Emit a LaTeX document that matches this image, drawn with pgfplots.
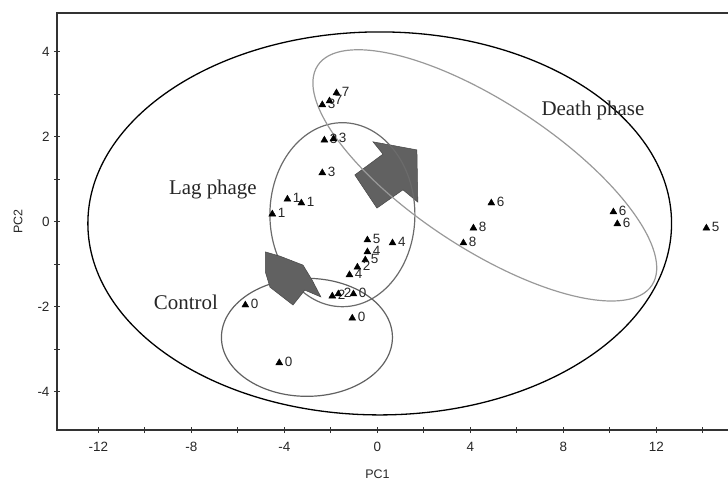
\documentclass[border=0pt]{standalone}
\usepackage{pgfplots}
\pgfplotsset{compat=1.18}
\usepackage{fontspec}
\setmainfont{Liberation Sans}
\newfontfamily\serifnote{Liberation Serif}

\pgfplotstableread{
x y lab
-1.76 3.03 7
-2.06 2.84 7
-2.37 2.75 3
-2.28 1.92 3
-1.89 1.95 3
-2.37 1.15 3
-3.87 0.53 1
-3.27 0.44 1
-4.52 0.18 1
-0.43 -0.43 5
0.65 -0.50 4
-0.43 -0.71 4
-0.52 -0.90 5
-0.86 -1.07 2
-1.20 -1.25 4
-1.94 -1.75 2
-1.68 -1.70 2
-1.03 -1.70 0
-5.68 -1.96 0
-1.08 -2.27 0
-4.22 -3.32 0
4.90 0.44 6
4.13 -0.15 8
3.70 -0.50 8
10.15 0.23 6
10.32 -0.05 6
14.15 -0.15 5
}\pcadata

\begin{document}
\begin{tikzpicture}
\begin{axis}[
  scale only axis, width=671bp, height=417bp,
  at={(0,0)}, anchor=south west,
  xmin=-13.78, xmax=15.08, ymin=-4.90, ymax=4.91,
  xtick={-12,-8,...,12}, minor xtick={-10,-6,...,14},
  ytick={-4,-2,...,4}, minor ytick={-3,-1,1,3},
  tick pos=left, tick align=center,
  major tick length=6bp, minor tick length=6bp,
  major tick style={black!80, line width=1bp},
  minor tick style={black!80, line width=1bp},
  axis line style={draw=none},
  clip=false,
  /pgf/number format/assume math mode=true,
  tick label style={font=\fontsize{13.5}{15}\selectfont, text=black!85},
  xticklabel style={yshift=-6bp},
  yticklabel style={xshift=-1bp},
  xlabel={PC1}, ylabel={PC2},
  xlabel style={at={(axis description cs:0.4776,-0.1055)}, anchor=center, font=\fontsize{12.5}{14}\selectfont, text=black!85},
  ylabel style={at={(axis description cs:-0.0581,0.5)}, anchor=center, font=\fontsize{12.5}{14}\selectfont, text=black!85},
]
% frame (left, top, bottom)
\draw[black!80, line width=1.3bp] (rel axis cs:1,1) -- (rel axis cs:0,1) -- (rel axis cs:0,0) -- (rel axis cs:1,0);

% big arrow (lag -> death)
\fill[black!62, draw=black!72, line width=0.5bp]
  (axis cs:-0.97,1.10) -- (axis cs:0.24,1.59) -- (axis cs:-0.19,1.88) -- (axis cs:1.70,1.69)
  -- (axis cs:1.74,0.46) -- (axis cs:1.10,0.75) -- (axis cs:-0.02,0.32) -- cycle;

% ellipses
\draw[black, line width=1.3bp] (axis cs:0.10,-0.04) ellipse [x radius=291.85bp, y radius=191.5bp];
\draw[black!58, line width=1.2bp] (axis cs:-1.505,0.165) ellipse [x radius=72.5bp, y radius=92bp];
\draw[black!62, line width=1.2bp] (axis cs:-3.03,-2.72) ellipse [x radius=85.5bp, y radius=59bp];
\draw[black!40, line width=1.2bp, rotate around={-33.3:(axis cs:4.62,1.09)}] (axis cs:4.62,1.09) ellipse [x radius=200bp, y radius=73bp];

% small arrow (control -> lag)
\fill[black!62, draw=black!72, line width=0.5bp]
  (axis cs:-4.82,-0.71) -- (axis cs:-4.19,-0.81) -- (axis cs:-3.20,-1.02) -- (axis cs:-2.81,-1.37)
  -- (axis cs:-2.43,-1.77) -- (axis cs:-3.12,-1.61) -- (axis cs:-3.63,-1.96) -- (axis cs:-4.62,-1.54)
  -- (axis cs:-4.82,-1.18) -- cycle;

% phase labels
\node[anchor=base west, inner sep=0pt, font=\serifnote\fontsize{21}{24}\selectfont, text=black!85] at (axis cs:7.05,2.50) {Death phase};
\node[anchor=base east, inner sep=0pt, font=\serifnote\fontsize{21}{24}\selectfont, text=black!85] at (axis cs:-5.18,0.63) {Lag phage};
\node[anchor=base east, inner sep=0pt, font=\serifnote\fontsize{21}{24}\selectfont, text=black!85] at (axis cs:-6.85,-2.06) {Control};

\addplot[only marks, mark=triangle*, mark size=4bp, black,
  nodes near coords, point meta=explicit symbolic,
  every node near coord/.style={anchor=west, inner sep=0.5bp, xshift=4.8bp, yshift=1bp,
    font=\fontsize{13.5}{15}\selectfont, text=black!85}]
  table[x=x, y=y, meta=lab] {\pcadata};
\end{axis}
\pgfresetboundingbox
\path (-57bp,-52bp) rectangle (671bp,430bp);
\end{tikzpicture}
\end{document}
